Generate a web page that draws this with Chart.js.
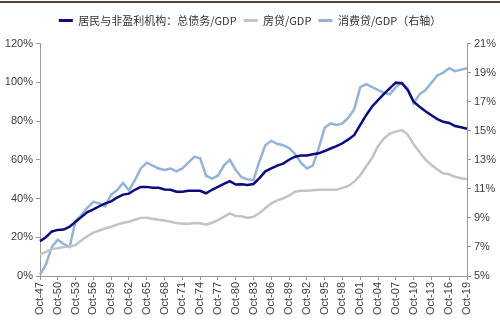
<!DOCTYPE html>
<html>
<head>
<meta charset="utf-8">
<script src="https://cdn.jsdelivr.net/npm/chart.js@4/dist/chart.umd.min.js"></script>
<style>
  html, body { margin: 0; padding: 0; background: #ffffff; }
  #wrap { width: 500px; height: 322px; position: relative; }
</style>
</head>
<body>
<div id="wrap"><canvas id="c" width="500" height="322"></canvas></div>
<script>
// Categories: one point per year, Oct-47 .. Oct-19
const categories = ['Oct-47','Oct-48','Oct-49','Oct-50','Oct-51','Oct-52','Oct-53','Oct-54','Oct-55','Oct-56',
  'Oct-57','Oct-58','Oct-59','Oct-60','Oct-61','Oct-62','Oct-63','Oct-64','Oct-65','Oct-66',
  'Oct-67','Oct-68','Oct-69','Oct-70','Oct-71','Oct-72','Oct-73','Oct-74','Oct-75','Oct-76',
  'Oct-77','Oct-78','Oct-79','Oct-80','Oct-81','Oct-82','Oct-83','Oct-84','Oct-85','Oct-86',
  'Oct-87','Oct-88','Oct-89','Oct-90','Oct-91','Oct-92','Oct-93','Oct-94','Oct-95','Oct-96',
  'Oct-97','Oct-98','Oct-99','Oct-00','Oct-01','Oct-02','Oct-03','Oct-04','Oct-05','Oct-06',
  'Oct-07','Oct-08','Oct-09','Oct-10','Oct-11','Oct-12','Oct-13','Oct-14','Oct-15','Oct-16',
  'Oct-17','Oct-18','Oct-19'];

// 居民与非盈利机构：总债务/GDP (left axis, %)
const totalDebt = [18,20,23,23.8,24,25.5,28,30.5,33,34.4,
  36,37.5,38.5,40.5,42,42.5,44.5,46,46,45.5,
  45.5,44.7,44.5,43.5,43.5,44,44,44,42.7,44.5,
  46,47.5,49,47.2,47.3,47,47.5,50.5,54,55.5,
  57,58,60,61.6,62.2,62.2,62.8,63.3,64.5,65.8,
  67,68.5,70.5,72.8,78,83,87.5,90.8,94,97,
  99.8,99.5,96,90,87.4,85,83,81,79.6,79,
  77.4,76.8,76];

// 房贷/GDP (left axis, %)
const mortgage = [11.2,12.5,14,14.3,15,15.2,16,18.5,20.5,22.4,
  23.5,24.5,25.4,26.5,27.5,28,29,30,30.1,29.5,
  29,28.6,28,27.3,27,27,27.3,27.2,26.5,27.5,
  28.8,30.5,32.3,31,30.8,30,30.6,32.5,35,37.5,
  39,40.1,41.5,43.5,44,44,44.2,44.5,44.5,44.5,
  44.5,45.5,46.5,48.7,52,56.5,61,67,71,73.5,
  74.5,75.3,73,68,64,60,57.3,55,53,52.5,
  51.2,50.5,50];

// 消费贷/GDP (right axis, %)
const consumer = [5.1,5.8,7.0,7.5,7.2,7.0,8.8,9.2,9.7,10.1,
  10.0,9.8,10.6,10.9,11.4,10.9,11.6,12.4,12.8,12.6,
  12.4,12.3,12.4,12.2,12.4,12.8,13.2,13.1,11.9,11.7,
  11.9,12.6,13.0,12.3,11.8,11.65,11.6,12.9,14.0,14.3,
  14.1,14.0,13.8,13.4,12.8,12.4,12.6,13.8,15.2,15.5,
  15.4,15.5,15.9,16.5,18.0,18.2,18.0,17.8,17.6,17.5,
  18.0,18.3,17.9,16.9,17.5,17.8,18.3,18.8,19.0,19.3,
  19.1,19.2,19.3];

const seriesNames = ['居民与非盈利机构：总债务/GDP', '房贷/GDP', '消费贷/GDP（右轴）'];
const leftTicks = [0, 20, 40, 60, 80, 100, 120];
const rightTicks = [5, 7, 9, 11, 13, 15, 17, 19, 21];

const colNavy = '#0b0b7d';
const colGray = '#c3c3c3';
const colBlue = '#95b3d7';
const tickFont = { family: "'Liberation Sans', Arial, sans-serif", size: 11 };
const tickColor = '#404040';
const axisColor = '#9a9a9a';

const topLine = {
  id: 'topLine',
  beforeDraw(chart) {
    const ctx = chart.ctx;
    ctx.save();
    ctx.fillStyle = '#5a4039';
    ctx.fillRect(0, 1, chart.width, 2);
    ctx.restore();
  }
};
const legendHeight = {
  id: 'legendHeight',
  beforeLayout(chart) {
    const lg = chart.legend;
    if (lg && !lg._patched) {
      const orig = lg.fit;
      lg.fit = function () { orig.call(this); this.height = 35.5; };
      lg._patched = true;
    }
  }
};

new Chart(document.getElementById('c'), {
  type: 'line',
  data: {
    labels: categories,
    datasets: [
      { label: seriesNames[0], data: totalDebt, yAxisID: 'y', borderColor: colNavy, backgroundColor: colNavy, borderWidth: 2.5, pointRadius: 0, tension: 0 },
      { label: seriesNames[1], data: mortgage, yAxisID: 'y', borderColor: colGray, backgroundColor: colGray, borderWidth: 2.5, pointRadius: 0, tension: 0 },
      { label: seriesNames[2], data: consumer, yAxisID: 'y1', borderColor: colBlue, backgroundColor: colBlue, borderWidth: 2.5, pointRadius: 0, tension: 0 }
    ]
  },
  options: {
    responsive: false,
    animation: false,
    devicePixelRatio: 1,
    layout: { padding: { top: 8, left: 0, right: 0, bottom: 0 } },
    plugins: {
      tooltip: { enabled: false },
      legend: {
        display: true,
        position: 'top',
        align: 'center',
        labels: {
          font: { family: "'Noto Sans CJK SC', 'Liberation Sans', sans-serif", size: 11 },
          color: '#333333',
          boxWidth: 14,
          boxHeight: 3,
          padding: 7,
          generateLabels(chart) {
            return chart.data.datasets.map((ds, i) => ({
              text: ds.label, fillStyle: ds.borderColor, strokeStyle: ds.borderColor,
              lineWidth: 0, hidden: false, datasetIndex: i, fontColor: '#333333'
            }));
          }
        }
      }
    },
    scales: {
      x: {
        type: 'category',
        offset: false,
        grid: { display: true, drawOnChartArea: false, drawTicks: true, tickLength: 4, color: axisColor },
        border: { display: true, color: axisColor, width: 1 },
        ticks: {
          autoSkip: false, maxRotation: 90, minRotation: 90, padding: 2,
          font: tickFont, color: tickColor,
          callback(val, idx) { return idx % 3 === 0 ? this.getLabelForValue(val) : null; }
        },
        afterFit(scale) { scale.height = 46; }
      },
      y: {
        position: 'left', min: 0, max: 120,
        grid: { display: true, drawOnChartArea: false, drawTicks: true, tickLength: 4, color: axisColor },
        border: { display: true, color: axisColor, width: 1 },
        afterBuildTicks(scale) { scale.ticks = leftTicks.map(v => ({ value: v })); },
        ticks: { font: tickFont, color: tickColor, padding: 3, callback: v => v + '%' },
        afterFit(scale) { scale.width = 40; }
      },
      y1: {
        position: 'right', min: 5, max: 21,
        grid: { display: true, drawOnChartArea: false, drawTicks: true, tickLength: 4, color: axisColor },
        border: { display: true, color: axisColor, width: 1 },
        afterBuildTicks(scale) { scale.ticks = rightTicks.map(v => ({ value: v })); },
        ticks: { font: tickFont, color: tickColor, padding: 3, callback: v => v + '%' },
        afterFit(scale) { scale.width = 33; }
      }
    }
  },
  plugins: [topLine, legendHeight]
});
</script>
</body>
</html>
